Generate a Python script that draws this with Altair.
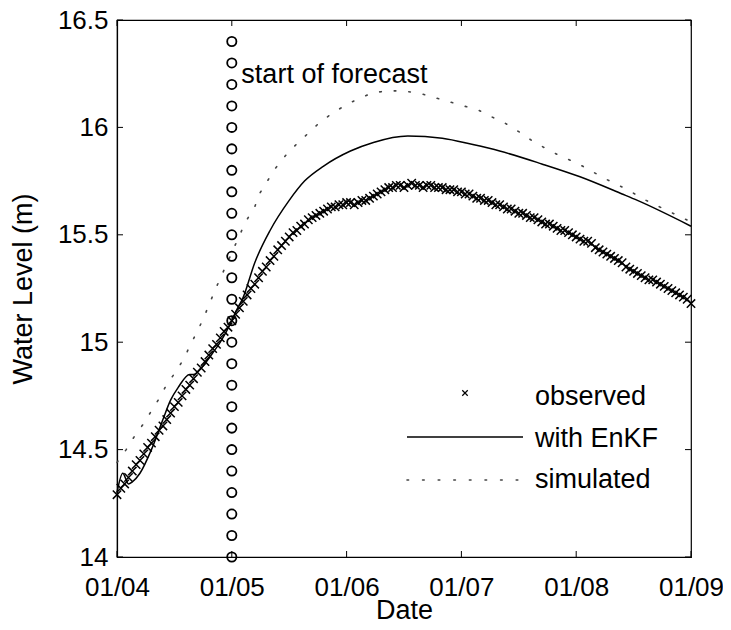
import altair as alt
import pandas as pd

# ---------------- data (x = days since 01/04) ----------------
obs_level = [
    14.29, 14.32, 14.34, 14.37, 14.40, 14.43, 14.45, 14.48, 14.51, 14.53,
    14.56, 14.59, 14.61, 14.64, 14.67, 14.70, 14.72, 14.75, 14.78, 14.80,
    14.83, 14.86, 14.88, 14.91, 14.94, 14.97, 14.99, 15.02, 15.05, 15.07,
    15.10,
    15.13, 15.16, 15.19, 15.22, 15.25, 15.27, 15.30, 15.33, 15.35, 15.38,
    15.40, 15.43, 15.45, 15.47, 15.49, 15.51, 15.52, 15.54, 15.55, 15.57,
    15.58, 15.59, 15.60, 15.61, 15.62, 15.63, 15.63, 15.64, 15.64, 15.65,
    15.65, 15.64, 15.65, 15.66, 15.66, 15.67, 15.68, 15.69, 15.70, 15.71,
    15.72, 15.72, 15.73, 15.73, 15.72, 15.73, 15.74, 15.73, 15.73, 15.72,
    15.73, 15.73, 15.72, 15.72, 15.72, 15.71, 15.71, 15.71, 15.70, 15.70,
    15.69, 15.69, 15.68, 15.67, 15.67, 15.66, 15.66, 15.65, 15.64, 15.64,
    15.63, 15.62, 15.62, 15.61, 15.60, 15.60, 15.59, 15.58, 15.58, 15.57,
    15.56, 15.55, 15.55, 15.54, 15.53, 15.52, 15.52, 15.51, 15.50, 15.49,
    15.48, 15.47, 15.47, 15.46, 15.44, 15.43, 15.42, 15.41, 15.40, 15.39,
    15.38, 15.37, 15.35, 15.34, 15.33, 15.32, 15.31, 15.30, 15.29, 15.29,
    15.28, 15.27, 15.26, 15.25, 15.24, 15.23, 15.22, 15.21, 15.20, 15.18,
]
obs_day = list(range(len(obs_level)))

enkf_day = [0, 1.5, 3, 4, 6, 9, 12, 14, 16, 19, 20, 22, 25, 27, 30, 31, 33, 36,
            40, 45, 49, 54, 61, 67, 76, 85, 93, 100, 111, 121, 132, 136, 150]
enkf_level = [14.30, 14.39, 14.34, 14.35, 14.39, 14.50, 14.64, 14.73, 14.79,
              14.85, 14.85, 14.88, 14.95, 15.00, 15.10, 15.14, 15.21, 15.37,
              15.52, 15.66, 15.75, 15.82, 15.89, 15.93, 15.96, 15.95, 15.92,
              15.89, 15.83, 15.77, 15.69, 15.66, 15.54]

sim_day = [0, 2.4, 4.5, 6.9, 9, 11.1, 13.2, 15.3, 17.7, 19.2, 21, 22.8, 25.8,
           33.6, 36, 37.2, 39.3, 41.4, 44.1, 46.8, 49.8, 52.8, 55.8, 59.4, 62.7,
           66.6, 70.5, 74.4, 78.9, 82.8, 86.7, 90.6, 94.5, 97.8, 101.4, 105,
           108.3, 112.2, 115.5, 119.4, 122.7, 126.6, 129.9, 133.5, 137.1, 150]
sim_level = [14.44, 14.50, 14.56, 14.62, 14.68, 14.74, 14.81, 14.86, 14.93,
             14.99, 15.05, 15.12, 15.25, 15.56, 15.63, 15.69, 15.75, 15.81,
             15.87, 15.92, 15.97, 16.02, 16.06, 16.10, 16.13, 16.16, 16.17,
             16.17, 16.16, 16.14, 16.12, 16.10, 16.08, 16.05, 16.02, 15.98,
             15.94, 15.90, 15.87, 15.84, 15.81, 15.77, 15.74, 15.71, 15.67,
             15.56]

forecast_day = 30
circle_levels = [14.0, 14.1, 14.2, 14.3, 14.4, 14.5, 14.6, 14.7, 14.8, 14.9,
                 15.0, 15.1, 15.2, 15.3, 15.4, 15.5, 15.6, 15.7, 15.8, 15.9,
                 16.0, 16.1, 16.2, 16.3, 16.4]

x_tick_days = [0, 30, 60, 90, 120, 150]
x_tick_labels = ["01/04", "01/05", "01/06", "01/07", "01/08", "01/09"]
y_ticks = [14.0, 14.5, 15.0, 15.5, 16.0, 16.5]

annot_text = "start of forecast"
annot_day = 32.5
annot_level = 16.207

legend_labels = ["observed", "with EnKF", "simulated"]

# ---------------- styling ----------------
FONT = "Liberation Sans"
FS = 27      # titles / annotation / legend
LFS = 26     # tick labels
W, H = 574, 537

label_expr = "[" + ",".join("'%s'" % s for s in x_tick_labels) + "][round(datum.value/30)]"

common_axis = dict(
    grid=False, ticks=False, tickSize=0,
    labelFont=FONT, labelFontSize=LFS, labelColor="black",
    titleFont=FONT, titleFontSize=FS, titleColor="black", titleFontWeight="normal",
    domainColor="black", domainWidth=1.2,
)
x_axis = alt.Axis(values=x_tick_days, labelExpr=label_expr, title="Date",
                  labelPadding=17, titlePadding=-3, labelFlush=False, **common_axis)
y_axis = alt.Axis(values=y_ticks, format="~g", title="Water Level (m)",
                  labelPadding=9, titlePadding=20, **common_axis)

xs = alt.Scale(domain=[0, 150], nice=False, zero=False)
ys = alt.Scale(domain=[14, 16.5], nice=False, zero=False)


def X():
    return alt.X("x:Q", scale=xs, axis=x_axis)


def Y():
    return alt.Y("y:Q", scale=ys, axis=y_axis)


obs_df = pd.DataFrame({"x": obs_day, "y": obs_level})
enkf_df = pd.DataFrame({"x": enkf_day, "y": enkf_level})
sim_df = pd.DataFrame({"x": sim_day, "y": sim_level})
circ_df = pd.DataFrame({"x": [forecast_day] * len(circle_levels), "y": circle_levels})
xt_df = pd.DataFrame({"x": x_tick_days})
yt_df = pd.DataFrame({"y": y_ticks})
annot_df = pd.DataFrame({"x": [annot_day], "y": [annot_level], "t": [annot_text]})

CROSS = "M-1,-1L1,1M-1,1L1,-1"

sim = alt.Chart(sim_df).mark_line(color="#444444", strokeWidth=1.6,
                                  strokeDash=[1.6, 13], strokeCap="round").encode(x=X(), y=Y())
enkf = alt.Chart(enkf_df).mark_line(color="black", strokeWidth=1.5,
                                    interpolate="monotone").encode(x=X(), y=Y())
obs = alt.Chart(obs_df).mark_point(shape=CROSS, size=70, color="black",
                                   strokeWidth=1.5, filled=False,
                                   opacity=1).encode(x=X(), y=Y())
circ = alt.Chart(circ_df).mark_point(shape="circle", size=85, color="black",
                                     strokeWidth=1.8, filled=False,
                                     opacity=1).encode(x=X(), y=Y())

tick_len = 6
xt_bottom = alt.Chart(xt_df).mark_rule(color="black", strokeWidth=1).encode(
    x=X(), y=alt.value(H), y2=alt.value(H - tick_len))
xt_top = alt.Chart(xt_df).mark_rule(color="black", strokeWidth=1).encode(
    x=X(), y=alt.value(0), y2=alt.value(tick_len))
yt_left = alt.Chart(yt_df).mark_rule(color="black", strokeWidth=1).encode(
    y=Y(), x=alt.value(0), x2=alt.value(tick_len))
yt_right = alt.Chart(yt_df).mark_rule(color="black", strokeWidth=1).encode(
    y=Y(), x=alt.value(W), x2=alt.value(W - tick_len))

annot = alt.Chart(annot_df).mark_text(align="left", baseline="alphabetic",
                                      font=FONT, fontSize=FS, color="black").encode(
    x=X(), y=Y(), text="t:N")

# ---------------- legend (drawn as a guide box) ----------------
leg_df = pd.DataFrame({"t": legend_labels, "py": [385, 427, 468]})
leg_text = alt.Chart(leg_df).mark_text(align="left", baseline="alphabetic",
                                       font=FONT, fontSize=FS, color="black").encode(
    x=alt.value(418), y=alt.Y("py:Q", scale=None), text="t:N")
one = pd.DataFrame({"k": [0]})
leg_cross = alt.Chart(one).mark_point(shape=CROSS, size=30, color="black",
                                      strokeWidth=1.2, filled=False, opacity=1).encode(
    x=alt.value(348), y=alt.value(373))
leg_line = alt.Chart(one).mark_rule(color="black", strokeWidth=1.5).encode(
    x=alt.value(290), x2=alt.value(406), y=alt.value(417))
leg_dots = alt.Chart(one).mark_rule(color="#444444", strokeWidth=1.6,
                                    strokeDash=[1.6, 14], strokeCap="round").encode(
    x=alt.value(290), x2=alt.value(406), y=alt.value(460))

chart = alt.layer(
    sim, enkf, obs, circ, xt_bottom, xt_top, yt_left, yt_right, annot,
    leg_text, leg_cross, leg_line, leg_dots
).properties(
    width=W, height=H,
    autosize=alt.AutoSizeParams(type="none"),
    padding={"left": 109, "top": 12, "right": 32, "bottom": 65},
    background="white",
).configure_view(
    stroke="black", strokeWidth=1.2
)

chart.save("out.html", embed_options={"renderer": "svg", "actions": False})
